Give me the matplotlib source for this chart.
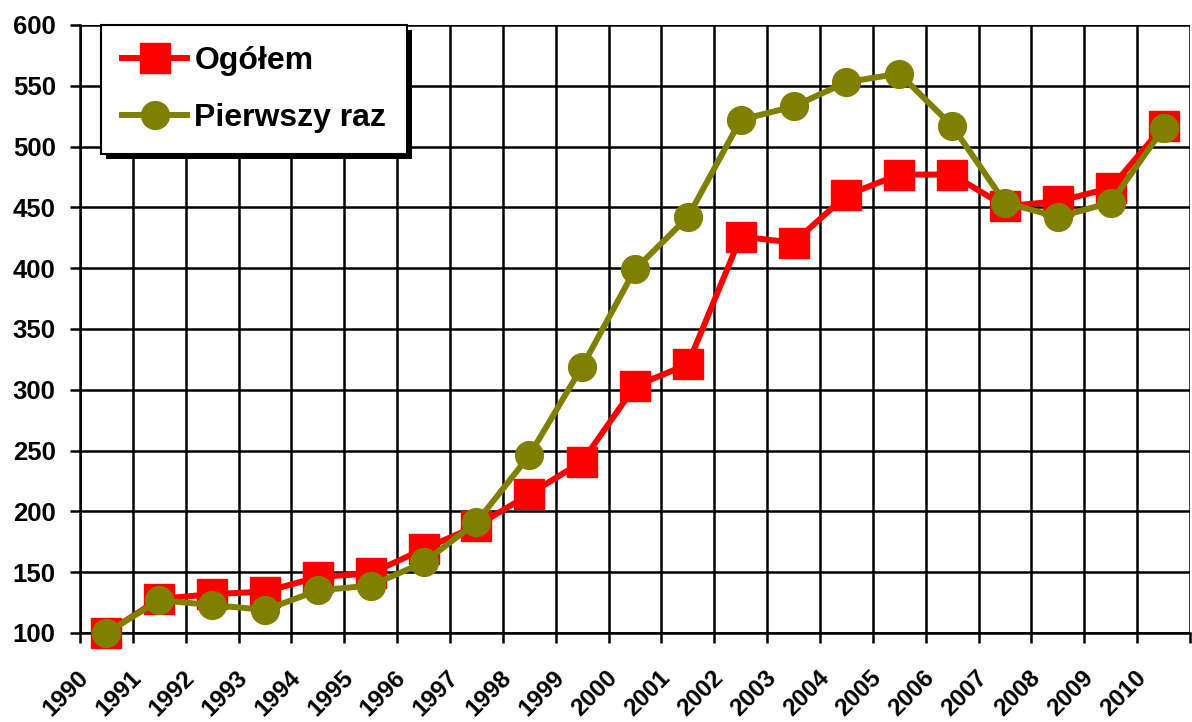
import numpy as np
import matplotlib.pyplot as plt
import matplotlib.transforms as mtransforms
from matplotlib.patches import Rectangle

plt.rcParams['font.family'] = ['Liberation Sans', 'DejaVu Sans']
plt.rcParams['font.weight'] = 'bold'

# data
years = [str(y) for y in range(1990, 2011)]
ogolem = [100, 128, 132, 134, 146, 149, 169, 188, 214, 241, 303, 321,
          426, 421, 460, 477, 477, 451, 455, 466, 517]
pierwszy = [100, 127, 123, 119, 135, 139, 158, 191, 246, 319, 399, 442,
            522, 533, 553, 560, 517, 454, 442, 454, 515]

fig = plt.figure(figsize=(11.92, 7.22), dpi=100)
ax = fig.add_axes([80 / 1192, 1 - 633 / 722, 1110 / 1192, 608 / 722])

x = np.arange(len(years)) + 0.5
ax.plot(x, ogolem, color='#FF0000', lw=4.3, marker='s', ms=21,
        label='Ogółem', zorder=3, clip_on=False)
ax.plot(x, pierwszy, color='#808000', lw=4.3, marker='o', ms=20,
        label='Pierwszy raz', zorder=4, clip_on=False)

ax.set_xlim(0, len(years))
ax.set_ylim(100, 600)
ax.set_yticks(np.arange(100, 601, 50))
ax.set_xticks(np.arange(0, len(years) + 1))
ax.set_xticklabels([])
ax.set_xticks(x, minor=True)
ax.set_xticklabels(years, minor=True, rotation=45, ha='right', va='top')
ax.tick_params(axis='x', which='minor', length=0, pad=0, labelsize=17.5)
ax.tick_params(axis='x', which='major', length=7, width=1.8, direction='out')
ax.tick_params(axis='y', length=7, width=1.8, direction='out', labelsize=18.5, pad=10.5)

# rotated year labels sit a bit left of and well below each category centre
offset = mtransforms.ScaledTranslation(-13 / 100, -33 / 100, fig.dpi_scale_trans)
for lab in ax.get_xticklabels(minor=True):
    lab.set_transform(lab.get_transform() + offset)
    lab.set_fontweight('bold')
for lab in ax.get_yticklabels():
    lab.set_fontweight('bold')

ax.grid(True, which='major', color='black', lw=1.8)
ax.set_axisbelow(True)
for side in ['right', 'top']:
    ax.spines[side].set_visible(False)
ax.spines['left'].set_linewidth(1.8)
ax.spines['bottom'].set_linewidth(1.8)

leg = ax.legend(loc='upper left', bbox_to_anchor=(21 / 1110, 1.0), frameon=True,
                fancybox=False, prop={'size': 23, 'weight': 'bold'},
                handlelength=2.05, labelspacing=0.85, borderpad=0.65,
                handletextpad=0.22, borderaxespad=0)
leg.get_frame().set_edgecolor('black')
leg.get_frame().set_linewidth(1.5)
leg.get_frame().set_alpha(1)
leg.set_zorder(10)

# hard black drop shadow behind the legend box
fig.canvas.draw()
bb = leg.get_window_extent()
shadow = Rectangle((bb.x0 + 5, bb.y0 - 5), bb.width, bb.height, transform=None,
                   facecolor='black', edgecolor='none', zorder=9)
ax.add_artist(shadow)

fig.savefig('out.png', dpi=100)
